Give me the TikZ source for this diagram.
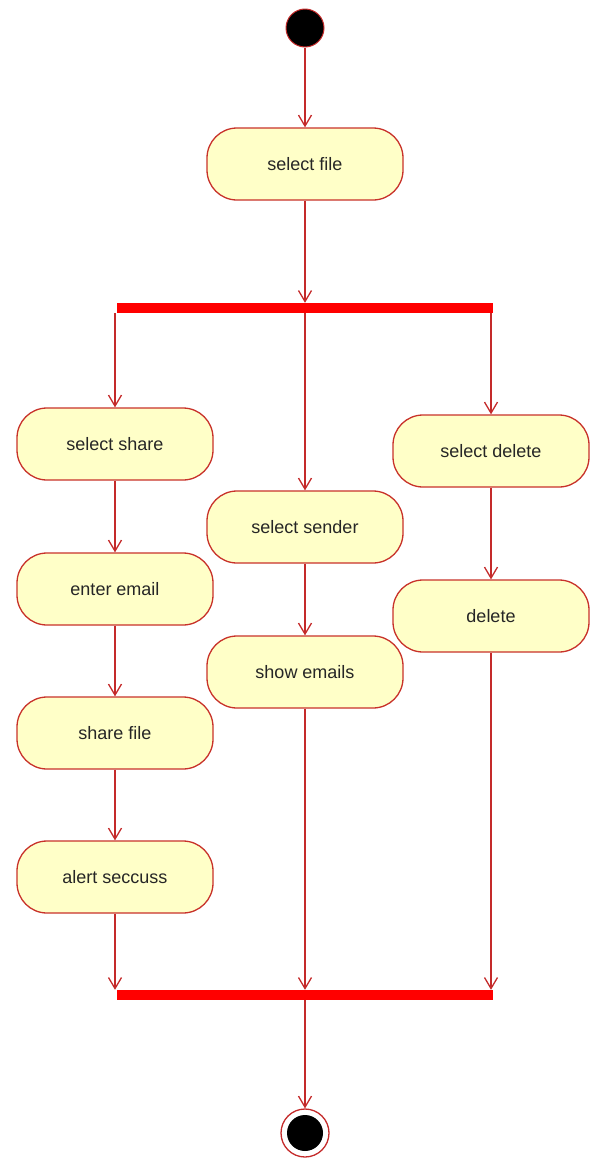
\documentclass[tikz,border=0pt]{standalone}
\usepackage{fontspec}
\setmainfont{Liberation Sans}
\usetikzlibrary{arrows.meta}

\definecolor{actfill}{HTML}{FFFFC8}
\definecolor{actedge}{HTML}{C8322A}
\definecolor{flowred}{HTML}{C42A2A}
\definecolor{barred}{HTML}{FF0000}

\begin{document}
\begin{tikzpicture}[
  x=1pt,
  y=-1pt,
  line join=round,
  action/.style={draw=actedge,fill=actfill,line width=1.3pt,rounded corners=30pt,
    minimum width=196pt,minimum height=72pt,inner sep=0pt,text=black!85,
    font=\fontsize{18}{20}\selectfont},
  flow/.style={draw=flowred,line width=1.3pt,
    -{Straight Barb[length=11pt,width=13pt,line width=1.3pt]}},
  syncbar/.style={fill=barred,minimum width=376pt,minimum height=10pt,inner sep=0pt},
  initial/.style={circle,fill=black,draw=flowred,line width=1pt,minimum size=38pt,inner sep=0pt},
  final/.style={circle,draw=flowred,line width=1.3pt,minimum size=48pt,inner sep=0pt}
]
  % Match the artwork frame.
  \useasboundingbox (0,0) rectangle (592,1159);

  % Start, first action and the fork bar.
  \node[initial] (start) at (305,28) {};
  \node[action] (file) at (305,164) {select file};
  \node[syncbar] (fork) at (305,308) {};

  % Left branch: sharing.
  \node[action] (share) at (115,444) {select share};
  \node[action] (email) at (115,589) {enter email};
  \node[action] (sharefile) at (115,733) {share file};
  \node[action] (alert) at (115,877) {alert seccuss};

  % Middle branch: emails of a sender.
  \node[action] (sender) at (305,527) {select sender};
  \node[action] (emails) at (305,672) {show emails};

  % Right branch: deleting.
  \node[action] (seldelete) at (491,451) {select delete};
  \node[action] (delete) at (491,616) {delete};

  % Join bar and end.
  \node[syncbar] (join) at (305,995) {};
  \node[final] (end) at (305,1133) {};
  \fill[black] (end) circle[radius=18pt];

  % Control flow.
  \draw[flow] (start) -- (file);
  \draw[flow] (file) -- (fork);
  \draw[flow] (fork.south -| share) -- (share);
  \draw[flow] (fork) -- (sender);
  \draw[flow] (fork.south -| seldelete) -- (seldelete);
  \draw[flow] (share) -- (email);
  \draw[flow] (email) -- (sharefile);
  \draw[flow] (sharefile) -- (alert);
  \draw[flow] (sender) -- (emails);
  \draw[flow] (seldelete) -- (delete);
  \draw[flow] (alert) -- (alert |- join.north);
  \draw[flow] (emails) -- (join);
  \draw[flow] (delete) -- (delete |- join.north);
  \draw[flow] (join) -- (end);
\end{tikzpicture}
\end{document}
